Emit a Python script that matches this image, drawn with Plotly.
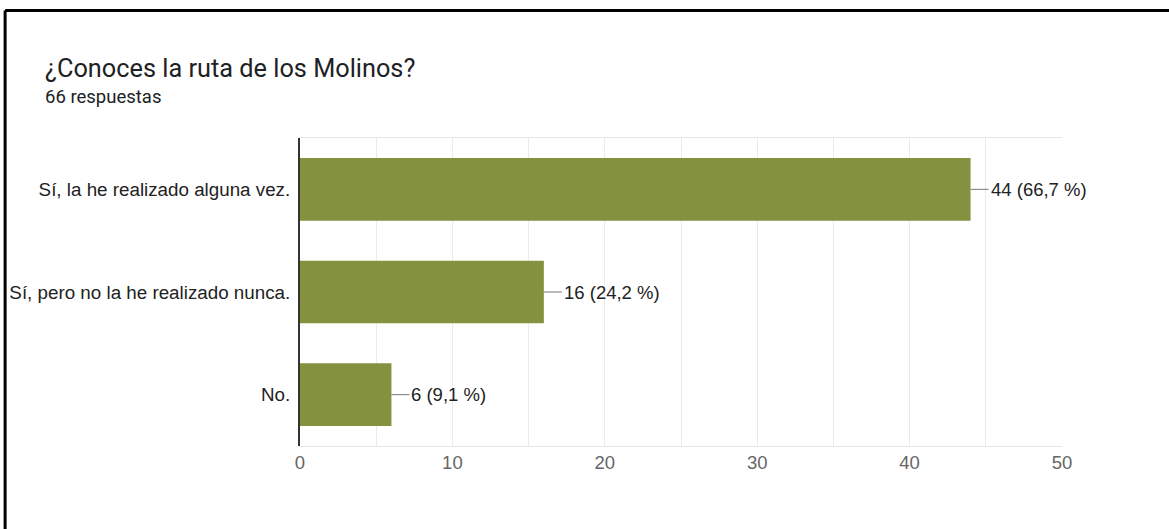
import plotly.graph_objects as go

# survey answers (top to bottom) and their counts
categories = ["Sí, la he realizado alguna vez.",
              "Sí, pero no la he realizado nunca.",
              "No."]
counts = [44, 16, 6]
pct_labels = ["66,7 %", "24,2 %", "9,1 %"]
x_ticks = [0, 10, 20, 30, 40, 50]

title = "¿Conoces la ruta de los Molinos?"
subtitle = "66 respuestas"

bar_color = "#84913f"
label_font = "Liberation Sans, Arial"

fig = go.Figure()

fig.add_trace(go.Bar(
    x=counts,
    y=categories,
    orientation="h",
    marker=dict(color=bar_color, line=dict(width=0)),
    width=0.61,
    hoverinfo="skip",
))

# value labels with a short leader line, google forms style
for c, cat, p in zip(counts, categories, pct_labels):
    fig.add_annotation(
        x=c, y=cat, xref="x", yref="y",
        text=f"{c} ({p})",
        showarrow=True, arrowhead=0, arrowwidth=1, arrowcolor="#777",
        ax=18, ay=0, standoff=0,
        xanchor="left",
        font=dict(family=label_font, size=18.5, color="#222"),
    )

fig.add_annotation(text=title, xref="paper", yref="paper", x=-0.337, y=1.0,
                   xanchor="left", yanchor="middle", yshift=70, showarrow=False,
                   font=dict(family="Roboto", size=25.3, color="#202124"))
fig.add_annotation(text=subtitle, xref="paper", yref="paper", x=-0.337, y=1.0,
                   xanchor="left", yanchor="middle", yshift=41, showarrow=False,
                   font=dict(family="Roboto", size=18.5, color="#202124"))

# the screenshot's partial black frame (top and left only)
fig.add_shape(type="line", xref="paper", yref="paper", x0=-0.387, x1=1.2, y0=1.414, y1=1.414,
              line=dict(color="black", width=3))
fig.add_shape(type="line", xref="paper", yref="paper", x0=-0.387, x1=-0.387, y0=1.414, y1=-0.4,
              line=dict(color="black", width=3))

fig.update_layout(
    width=1169, height=529,
    margin=dict(l=300, r=107, t=138, b=83),
    paper_bgcolor="white", plot_bgcolor="white",
    showlegend=False,
)

fig.update_xaxes(
    range=[0, 50], tickvals=x_ticks,
    showgrid=True, gridcolor="#ebebeb", gridwidth=1,
    minor=dict(dtick=5, showgrid=True, gridcolor="#ebebeb"),
    showline=True, linecolor="#e6e6e6", linewidth=1, mirror=True,
    zeroline=False, ticks="", automargin=False,
    tickfont=dict(family=label_font, size=18.5, color="#666"),
)
fig.update_yaxes(
    autorange="reversed",
    showline=True, linecolor="#333", linewidth=2,
    showgrid=False, ticks="", ticklabelstandoff=4, automargin=False,
    tickfont=dict(family=label_font, size=18.8, color="#222"),
)

# drop the page's default body margin so the figure sits at the window corner
fig.write_html("out.html", config={"displayModeBar": False},
               post_script="document.body.style.margin='0px';")
